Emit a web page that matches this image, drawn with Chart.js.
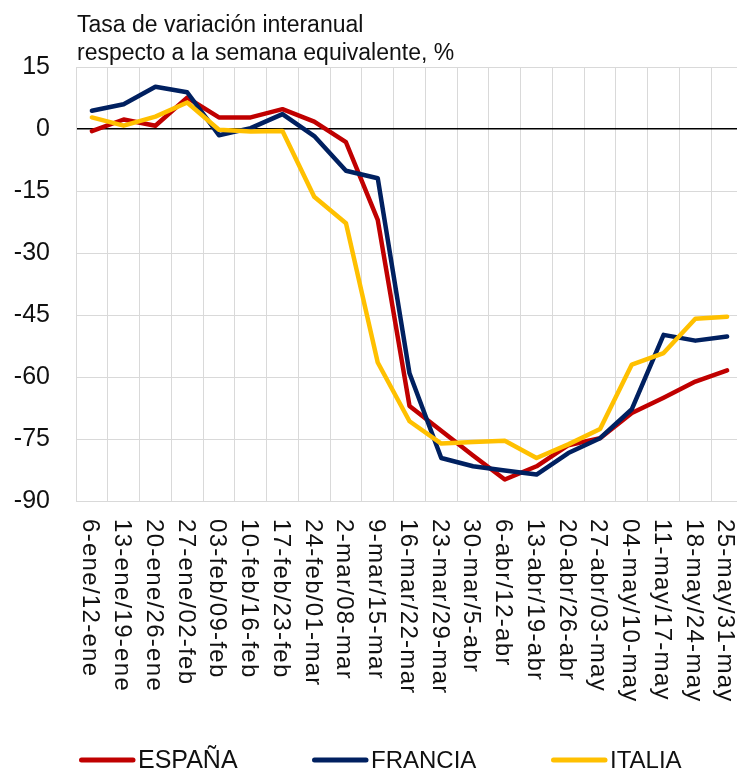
<!DOCTYPE html>
<html>
<head>
<meta charset="utf-8">
<script src="https://cdn.jsdelivr.net/npm/chart.js@4.4.1/dist/chart.umd.min.js"></script>
<style>
html, body { margin: 0; padding: 0; overflow: hidden; background: #fff; width: 737px; height: 772px; }
#wrap { position: absolute; left: 0; top: 0; width: 750px; height: 772px; }
canvas { display: block; }
</style>
</head>
<body>
<div id="wrap"><canvas id="c" width="750" height="772"></canvas></div>
<script>
const titleLines = ['Tasa de variación interanual', 'respecto a la semana equivalente, %'];
const categories = ['6-ene/12-ene','13-ene/19-ene','20-ene/26-ene','27-ene/02-feb','03-feb/09-feb','10-feb/16-feb','17-feb/23-feb','24-feb/01-mar','2-mar/08-mar','9-mar/15-mar','16-mar/22-mar','23-mar/29-mar','30-mar/5-abr','6-abr/12-abr','13-abr/19-abr','20-abr/26-abr','27-abr/03-may','04-may/10-may','11-may/17-may','18-may/24-may','25-may/31-may'];
const espana = [-0.5, 2.3, 0.8, 7.6, 2.8, 2.8, 4.8, 1.8, -3.2, -22, -67, -73, -79, -84.8, -81.6, -76.5, -74.8, -68.7, -65, -61.1, -58.4];
const francia = [4.4, 6.0, 10.2, 8.9, -1.5, 0.2, 3.6, -1.7, -10.1, -11.9, -59.1, -79.6, -81.6, -82.6, -83.6, -78.4, -74.8, -67.8, -49.8, -51.2, -50.2];
const italia = [2.8, 0.8, 3.0, 6.4, -0.2, -0.6, -0.5, -16.4, -22.8, -56.5, -70.7, -76.1, -75.7, -75.4, -79.6, -76.3, -72.6, -57.0, -54.2, -45.9, -45.4];
const seriesNames = ['ESPAÑA', 'FRANCIA', 'ITALIA'];
const yTicks = [-90, -75, -60, -45, -30, -15, 0, 15];

const FONT = "'Liberation Sans', Arial, Helvetica, sans-serif";
const TEXT = '#111111';
const GRID = '#d9d9d9';

const customDraw = {
  id: 'customDraw',
  afterDraw(chart) {
    const ctx = chart.ctx;
    const area = chart.chartArea;
    const xs = chart.scales.x;
    // title
    ctx.save();
    ctx.fillStyle = TEXT;
    ctx.font = '23px ' + FONT;
    ctx.textAlign = 'left';
    ctx.textBaseline = 'alphabetic';
    ctx.fillText(titleLines[0], area.left + 1, 32);
    ctx.fillText(titleLines[1], area.left + 1, 60);
    ctx.restore();
    // x labels rotated clockwise
    ctx.save();
    ctx.fillStyle = TEXT;
    ctx.font = '24px ' + FONT;
    try { ctx.letterSpacing = '1.3px'; } catch (e) {}
    ctx.textAlign = 'left';
    ctx.textBaseline = 'middle';
    categories.forEach((lab, i) => {
      const x = xs.getPixelForValue(i);
      ctx.save();
      ctx.translate(x - 2, area.bottom + 18);
      ctx.rotate(Math.PI / 2);
      ctx.fillText(lab, 0, 0);
      ctx.restore();
    });
    ctx.restore();
    // legend
    ctx.save();
    const legendX = [79, 312, 551];
    const y = 760;
    ctx.textAlign = 'left';
    ctx.textBaseline = 'alphabetic';
    chart.data.datasets.forEach((ds, i) => {
      ctx.strokeStyle = ds.borderColor;
      ctx.lineWidth = 5;
      ctx.lineCap = 'round';
      ctx.beginPath();
      ctx.moveTo(legendX[i] + 2.5, y);
      ctx.lineTo(legendX[i] + 54, y);
      ctx.stroke();
      ctx.fillStyle = TEXT;
      ctx.font = (i === 0 ? '25px ' : '24px ') + FONT;
      ctx.fillText(ds.label, legendX[i] + 59, 768);
    });
    ctx.restore();
  }
};

new Chart(document.getElementById('c'), {
  type: 'line',
  data: {
    labels: categories,
    datasets: [
      { label: seriesNames[0], data: espana, borderColor: '#C00000', backgroundColor: '#C00000', order: 3 },
      { label: seriesNames[1], data: francia, borderColor: '#002060', backgroundColor: '#002060', order: 2 },
      { label: seriesNames[2], data: italia, borderColor: '#FFC000', backgroundColor: '#FFC000', order: 1 }
    ]
  },
  options: {
    responsive: false,
    animation: false,
    devicePixelRatio: 1,
    layout: { padding: { left: 0, right: 7, top: 67, bottom: 0 } },
    elements: {
      line: { borderWidth: 4.5, tension: 0, borderJoinStyle: 'round', borderCapStyle: 'round', fill: false },
      point: { radius: 0, hoverRadius: 0 }
    },
    plugins: { legend: { display: false }, title: { display: false }, tooltip: { enabled: false } },
    scales: {
      x: {
        offset: true,
        grid: { offset: true, color: GRID, lineWidth: 1, drawTicks: false },
        border: { color: GRID, width: 1 },
        ticks: { display: false },
        afterFit(scale) { scale.height = 271; }
      },
      y: {
        min: -90, max: 15,
        afterBuildTicks(scale) { scale.ticks = yTicks.map(v => ({ value: v })); },
        grid: {
          drawTicks: false,
          color: c => (c.tick && c.tick.value === 0) ? '#000000' : GRID,
          lineWidth: c => (c.tick && c.tick.value === 0) ? 1.6 : 1
        },
        border: { color: GRID, width: 1 },
        ticks: { padding: 26, color: TEXT, font: { family: FONT, size: 25 } },
        afterFit(scale) { scale.width = 76; }
      }
    }
  },
  plugins: [customDraw]
});
</script>
</body>
</html>
